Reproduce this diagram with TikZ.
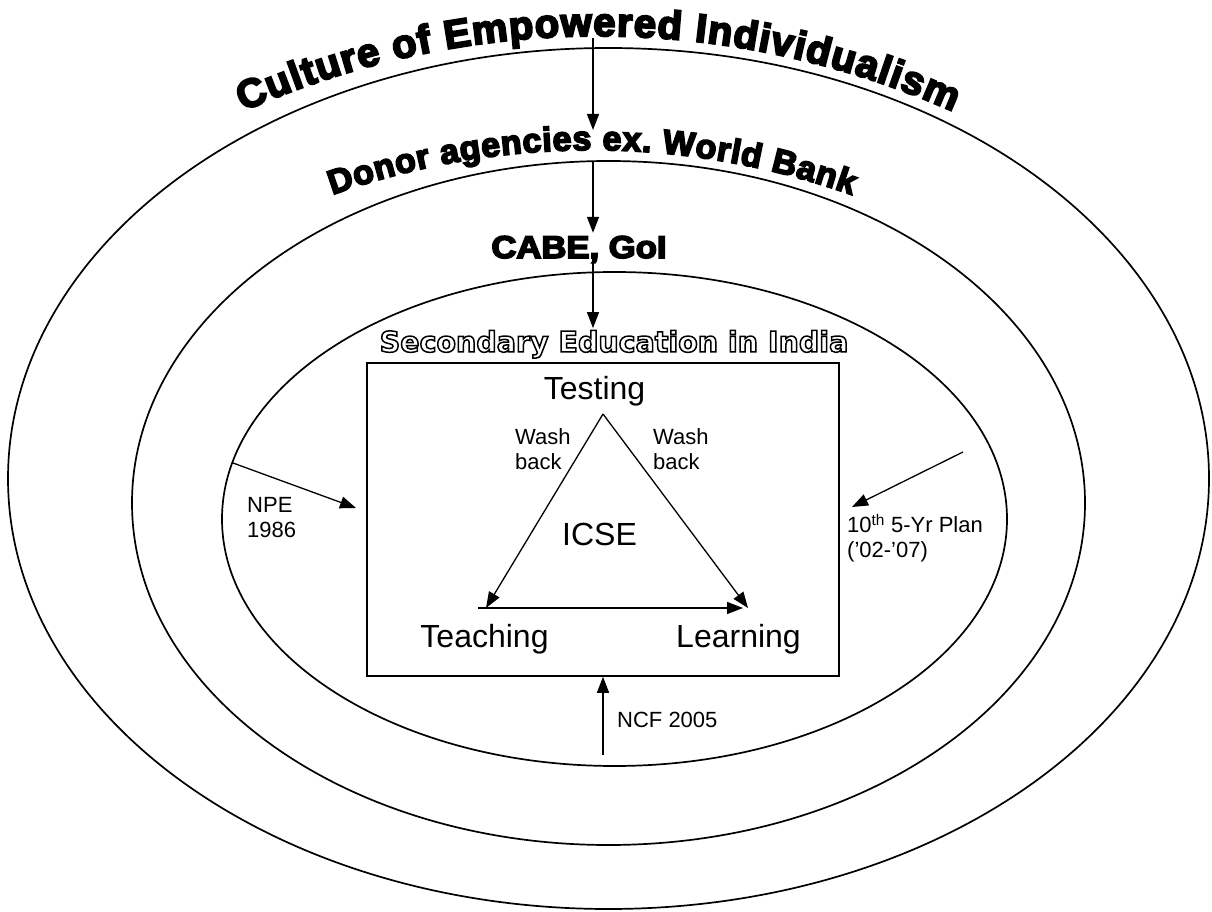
\documentclass[tikz,border=0pt]{standalone}
\usepackage{fontspec}
\setmainfont{Liberation Sans}
\newfontfamily\wordart{Liberation Sans Bold}[FakeBold=5]
\newfontfamily\roundbold{DejaVu Sans Bold}
\usetikzlibrary{arrows.meta,decorations.text,positioning}

% stroked (hollow) letters
\newcommand\hollow[1]{\special{pdf:literal direct 1 Tr 1.5 w}#1\special{pdf:literal direct 0 Tr}}

\tikzset{
  ring/.style={line width=1.7pt},
  arr/.style={line width=1.3pt,-{Triangle[length=16pt,width=12pt]}},
  lbl/.style={font=\fontsize{22}{25}\selectfont, align=left, inner sep=0pt},
  big/.style={font=\fontsize{32}{36}\selectfont, inner sep=0pt},
}

\begin{document}
\begin{tikzpicture}[x=1pt,y=1pt]
\useasboundingbox (0,0) rectangle (1212,911);

% three nested rings
\draw[ring] (608.5,432.5) ellipse [x radius=600.5, y radius=430.5];
\draw[ring] (608.5,408) ellipse [x radius=476.5, y radius=342];
\draw[ring] (614.5,392) ellipse [x radius=392.5, y radius=247];

\node (sec) [anchor=base, inner sep=2pt, font=\roundbold\fontsize{28.5}{30}\selectfont] at (614,559)
  {\hollow{Secondary Education in India}};

% arched headings
\path[decorate, decoration={text along path, text align={fit to path},
  text={|\wordart\fontsize{40}{40}\selectfont|Culture of Empowered Individualism}}]
  (598,3) ++(114:872) arc[start angle=114, end angle=66, radius=872];
\path[decorate, decoration={text along path, text align={fit to path},
  text={|\wordart\fontsize{34}{34}\selectfont|Donor agencies ex. World Bank}}]
  (592,-13) ++(109.6:774) arc[start angle=109.6, end angle=70.4, radius=774];

\node (cabe) [anchor=base, inner sep=3pt, font=\wordart\fontsize{31.5}{32}\selectfont] at (579,653)
  {\scalebox{1.1}[1]{CABE, GoI}};

% arrows down through the rings
\coordinate (culture) at (593,873);
\coordinate (donor) at (593,781);
\coordinate (midtop) at (593,750);
\draw[arr] (culture) -- (donor);
\draw[arr] (midtop) -- (midtop |- cabe.north);
\draw[arr] (cabe.base -| midtop) -- (sec.north -| midtop);

% ICSE box and triangle
\node (box) [draw, line width=1.5pt, minimum width=472, minimum height=313] at (603,391.5) {};
\node (testing) [big, anchor=base] at (594.5,511) {Testing};
\node (icse) [big, anchor=base] at (599.5,366) {ICSE};
\node (teaching) [big, anchor=base] at (484.5,264) {Teaching};
\node (learning) [big, anchor=base] at (738.5,264) {Learning};
\node (wbl) [lbl, anchor=base west] at (515,441) {Wash\\back};
\node (wbr) [lbl, anchor=base west] at (653,441) {Wash\\back};

\coordinate (apex) at (603,497);
\coordinate (teach) at (486,303);
\coordinate (learn) at (748,303);
\coordinate (base l) at (478,303);
\coordinate (base r) at (743,303);
\draw[arr] (apex) -- (teach);
\draw[arr] (apex) -- (learn);
\draw[arr] (base l) -- (base r);

% outside influences
\node (npe) [lbl, anchor=base west] at (247,373) {NPE\\1986};
\node (plan) [lbl, anchor=base west] at (847,353) {10\textsuperscript{th} 5-Yr Plan\\(’02-’07)};
\node (ncf) [lbl, anchor=base west] at (617,184) {NCF 2005};

\coordinate (npe from) at (233,448);
\coordinate (npe to) at (356,403);
\coordinate (plan from) at (963,459);
\coordinate (plan to) at (852,404);
\coordinate (ncf from) at (603,156);
\draw[arr] (npe from) -- (npe to);
\draw[arr] (plan from) -- (plan to);
\draw[arr] (ncf from) -- (ncf from |- box.south);
\end{tikzpicture}
\end{document}
